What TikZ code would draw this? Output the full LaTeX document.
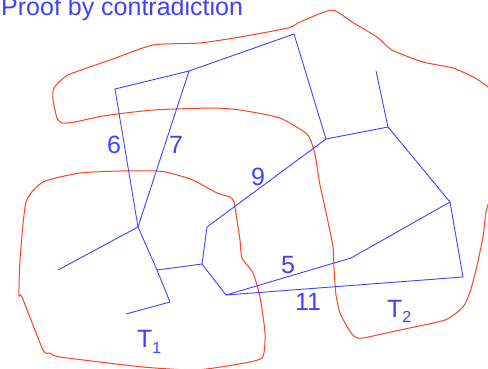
\documentclass[tikz,border=0pt]{standalone}
\usepackage{fontspec}
\setmainfont{Liberation Sans}
\definecolor{tblue}{RGB}{64,64,255}
\definecolor{tred}{RGB}{255,64,32}
\begin{document}
\begin{tikzpicture}[x=1pt,y=-1pt,
  edge/.style={draw=tblue,line width=0.9pt,line join=round},
  region/.style={draw=tred,line width=1pt},
  lbl/.style={text=tblue,font=\fontsize{25}{30}\selectfont,inner sep=0pt}]
\useasboundingbox (0,0) rectangle (488,368);
\begin{scope}
\clip (0,0) rectangle (488,368);
% big region T2
\draw[region] plot[smooth cycle, tension=0.35] coordinates {
 (62,123) (57,118) (53,100) (54,88) (68,75) (110,60) (153,45) (200,43) (240,37)
 (288,28) (300,22) (332,10) (352,22) (377,37) (392,50) (423,62) (453,68)
 (475,78) (492,92) (505,140) (492,192) (486,212) (483,237) (476,270)
 (470,292) (463,307) (445,320) (400,330) (363,338) (355,337) (349,330)
 (340,313) (336,295) (334,268) (333,247) (327,217) (320,185) (316,160)
 (313,147) (307,134) (280,118) (240,110) (213,108) (153,110) (103,116)
 (75,122) };
% region T1
\draw[region] plot[smooth cycle, tension=0.35] coordinates {
 (157,171) (170,173) (193,180) (217,193) (230,197) (234,202) (237,220)
 (240,240) (242,258) (253,273) (260,297) (265,333) (262,358) (233,365)
 (195,370) (143,367) (60,357) (50,353) (43,350) (22,297) (19,295)
 (20,260) (26,202) (43,182) (80,173) (120,171) };
\end{scope}
% tree vertices
\coordinate (A) at (115,89);
\coordinate (B) at (189,71);
\coordinate (C) at (294,34);
\coordinate (D) at (326,139);
\coordinate (E) at (388,127);
\coordinate (F) at (376,71);
\coordinate (G) at (450,202);
\coordinate (H) at (463,277);
\coordinate (I) at (226,295);
\coordinate (J) at (351,258);
\coordinate (K) at (202,264);
\coordinate (L) at (207,227);
\coordinate (M) at (138,227);
\coordinate (N) at (58,270);
\coordinate (O) at (157,270);
\coordinate (P) at (170,302);
\coordinate (Q) at (126,314);
\draw[edge] (A) -- (B);
\draw[edge] (B) -- (C);
\draw[edge] (C) -- (D);
\draw[edge] (D) -- (E);
\draw[edge] (E) -- (F);
\draw[edge] (E) -- (G);
\draw[edge] (G) -- (H);
\draw[edge] (H) -- (I);
\draw[edge] (G) -- (J);
\draw[edge] (J) -- (I);
\draw[edge] (I) -- (K);
\draw[edge] (K) -- (L);
\draw[edge] (L) -- (D);
\draw[edge] (K) -- (O);
\draw[edge] (M) -- (O);
\draw[edge] (O) -- (P);
\draw[edge] (P) -- (Q);
\draw[edge] (M) -- (N);
\draw[edge] (A) -- (M);
\draw[edge] (B) -- (M);
% labels
\node[lbl,anchor=base west] (title) at (1,15) {Proof by contradiction};
\node[lbl,anchor=base] (w6) at (114,153) {6};
\node[lbl,anchor=base] (w7) at (176,153) {7};
\node[lbl,anchor=base] (w9) at (258,185) {9};
\node[lbl,anchor=base] (w5) at (288,273) {5};
\node[lbl,anchor=base] (w11) at (308,310) {11};
\node[lbl,anchor=base west] (t1) at (137,347) {T\raisebox{-6pt}{\fontsize{16}{18}\selectfont 1}};
\node[lbl,anchor=base west] (t2) at (387,317) {T\raisebox{-5pt}{\fontsize{16}{18}\selectfont 2}};
\end{tikzpicture}
\end{document}
